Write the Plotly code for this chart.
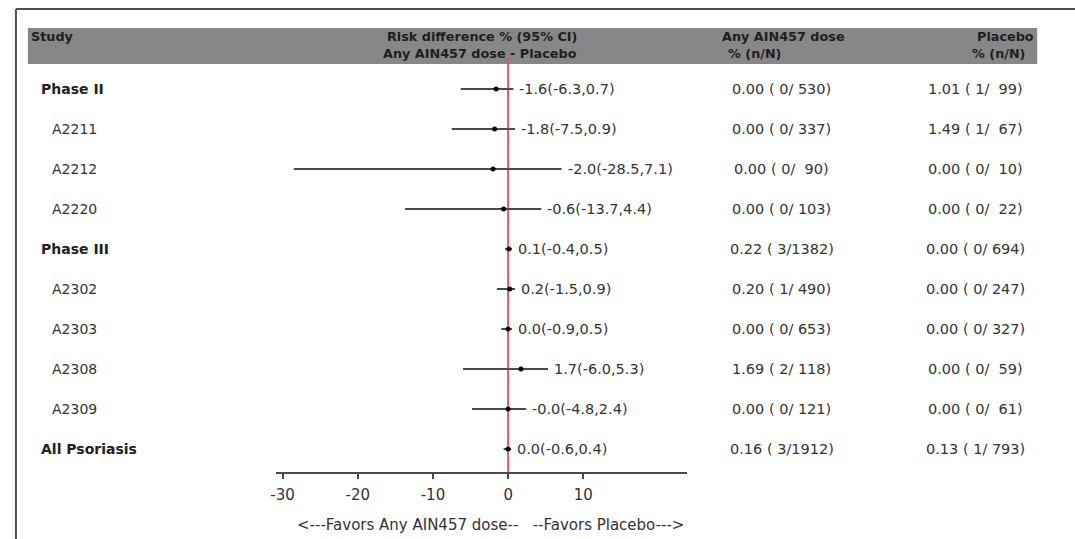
import plotly.graph_objects as go

# ---- data -------------------------------------------------------------
studies = ["Phase II", "A2211", "A2212", "A2220", "Phase III",
           "A2302", "A2303", "A2308", "A2309", "All Psoriasis"]
is_group = [True, False, False, False, True, False, False, False, False, True]

risk_diff = [-1.6, -1.8, -2.0, -0.6, 0.1, 0.2, 0.0, 1.7, -0.0, 0.0]
ci_low = [-6.3, -7.5, -28.5, -13.7, -0.4, -1.5, -0.9, -6.0, -4.8, -0.6]
ci_high = [0.7, 0.9, 7.1, 4.4, 0.5, 0.9, 0.5, 5.3, 2.4, 0.4]

any_pct = [0.00, 0.00, 0.00, 0.00, 0.22, 0.20, 0.00, 1.69, 0.00, 0.16]
any_n = [0, 0, 0, 0, 3, 1, 0, 2, 0, 3]
any_N = [530, 337, 90, 103, 1382, 490, 653, 118, 121, 1912]

pbo_pct = [1.01, 1.49, 0.00, 0.00, 0.00, 0.00, 0.00, 0.00, 0.00, 0.13]
pbo_n = [1, 1, 0, 0, 0, 0, 0, 0, 0, 1]
pbo_N = [99, 67, 10, 22, 694, 247, 327, 59, 61, 793]

x_ticks = [-30, -20, -10, 0, 10]

# ---- geometry helpers (page is 1075 x 539 px) ----------------------------
W, H = 1075, 539
ROW0, ROWSTEP = 89, 40          # first row centre and row pitch, px
AXIS_Y = 472                    # x-axis line, px from top
PAD = 3                         # annotation box padding, px


def px(x):
    return x / W


def py(y):
    return 1 - y / H


rows = list(range(len(studies)))
y_top = -ROW0 / ROWSTEP
y_bot = (AXIS_Y - ROW0) / ROWSTEP

FONT = "DejaVu Sans"
TXT = "#333333"
NBSP = "\u00a0"


def npct(p, n, N):
    return f"{p:.2f} ({n:>2}/{N:>4})".replace(" ", NBSP)


fig = go.Figure()

# confidence intervals with point estimates
fig.add_trace(go.Scatter(
    x=risk_diff, y=rows, mode="markers",
    marker=dict(color="black", size=5),
    error_x=dict(type="data", symmetric=False,
                 array=[h - r for h, r in zip(ci_high, risk_diff)],
                 arrayminus=[r - l for r, l in zip(risk_diff, ci_low)],
                 width=0, thickness=1.8, color="#4a4a4a"),
    hoverinfo="skip", showlegend=False, cliponaxis=False,
))

ann = []
# estimate (CI) label to the right of each interval
for i, (r, l, h) in enumerate(zip(risk_diff, ci_low, ci_high)):
    ann.append(dict(x=h, y=i, xref="x", yref="y", xanchor="left", xshift=7 - PAD,
                    text=f"{r:.1f}({l:.1f},{h:.1f})", showarrow=False,
                    font=dict(family=FONT, size=14.5, color=TXT)))

# study labels and n/N columns
for i, name in enumerate(studies):
    if is_group[i]:
        ann.append(dict(x=px(36 - PAD), y=i, xref="paper", yref="y", xanchor="left",
                        text=f"<b>{name}</b>", showarrow=False,
                        font=dict(family=FONT, size=14, color="#222222")))
    else:
        ann.append(dict(x=px(47 - PAD), y=i, xref="paper", yref="y", xanchor="left",
                        text=name, showarrow=False,
                        font=dict(family=FONT, size=14, color=TXT)))
    ann.append(dict(x=px(780), y=i, xref="paper", yref="y", xanchor="center",
                    text=npct(any_pct[i], any_n[i], any_N[i]), showarrow=False,
                    font=dict(family=FONT, size=14.5, color=TXT)))
    ann.append(dict(x=px(975), y=i, xref="paper", yref="y", xanchor="center",
                    text=npct(pbo_pct[i], pbo_n[i], pbo_N[i]), showarrow=False,
                    font=dict(family=FONT, size=14.5, color=TXT)))

# header band text
hfont = dict(family=FONT, size=12.8, color="#1e1e1e")
header = [
    ("<b>Study</b>", 26 - PAD, 37, "left"),
    ("<b>Risk difference % (95% CI)</b>", 573 + PAD, 37, "right"),
    ("<b>Any AIN457 dose - Placebo</b>", 573 + PAD, 54, "right"),
    ("<b>Any AIN457 dose</b>", 721 - PAD, 37, "left"),
    ("<b>% (n/N)</b>", 727 - PAD, 54, "left"),
    ("<b>Placebo</b>", 1033 + PAD, 37, "right"),
    ("<b>% (n/N)</b>", 1024 + PAD, 54, "right"),
]
for t, x, y, anc in header:
    ann.append(dict(x=px(x), y=py(y), xref="paper", yref="paper", xanchor=anc,
                    yanchor="middle", text=t, showarrow=False, font=hfont))

# direction caption under the axis
ann.append(dict(x=px(487), y=py(525), xref="paper", yref="paper",
                xanchor="center", yanchor="middle", showarrow=False,
                text="<---Favors Any AIN457 dose--" + NBSP * 3 + "--Favors Placebo--->",
                font=dict(family=FONT, size=15, color=TXT)))

shapes = [
    # header band
    dict(type="rect", xref="paper", yref="paper",
         x0=px(22), x1=px(1037), y0=py(64), y1=py(28),
         fillcolor="#878787", line=dict(width=0), layer="below"),
    # frame: top and left rules
    dict(type="line", xref="paper", yref="paper",
         x0=px(10), x1=1, y0=py(9), y1=py(9),
         line=dict(color="#505050", width=2)),
    dict(type="line", xref="paper", yref="paper",
         x0=px(10), x1=px(10), y0=py(9), y1=0,
         line=dict(color="#505050", width=2)),
    # no-difference reference line
    dict(type="line", xref="x", yref="paper", x0=0, x1=0,
         y0=py(AXIS_Y), y1=py(58),
         line=dict(color="#d9566c", width=2), layer="below"),
]

fig.update_layout(
    width=W, height=H,
    margin=dict(l=0, r=0, t=0, b=0),
    paper_bgcolor="white", plot_bgcolor="white",
    showlegend=False,
    annotations=ann, shapes=shapes,
    xaxis=dict(domain=[px(272), px(685)], range=[-30.8, 23.8],
               tickvals=x_ticks, ticktext=[str(v) for v in x_ticks],
               showline=True, linecolor="#4a4a4a", linewidth=1.5,
               ticks="outside", ticklen=5, tickwidth=1.5, tickcolor="#4a4a4a",
               ticklabelstandoff=3,
               showgrid=False, zeroline=False, fixedrange=True,
               tickfont=dict(family=FONT, size=15, color=TXT)),
    yaxis=dict(domain=[py(AXIS_Y), 1], range=[y_bot, y_top],
               visible=False, showgrid=False, zeroline=False, fixedrange=True),
)

fig.write_html("out.html", config={"displayModeBar": False})
